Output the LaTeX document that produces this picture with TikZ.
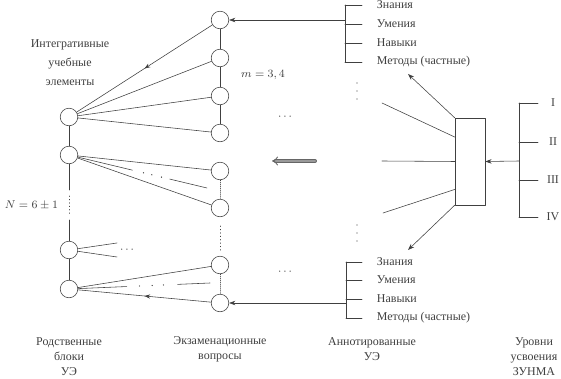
\documentclass[tikz,border=0pt]{standalone}
\usepackage{fontspec}
\setmainfont{Liberation Serif}
\usetikzlibrary{arrows.meta,calc,decorations.markings}
\tikzset{
  uel/.style={circle,draw,minimum size=12.5pt,inner sep=0pt},
  txt/.style={font=\fontsize{8.5}{10.6}\selectfont,align=center},
  midarr/.style={postaction={decorate},decoration={markings,
    mark=at position 0.5 with {\arrow{Stealth[length=4pt,width=3pt]}}}},
  tip/.style={-{Stealth[length=4.5pt,width=3.2pt]}},
}
\begin{document}
\begin{tikzpicture}[x=0.025cm,y=-0.025cm,line cap=round,line join=round,color=black!75]
\useasboundingbox (0,0) rectangle (561,379);

% родственные блоки
\node[uel] (l1) at (69,117) {};
\node[uel] (l2) at (69,155) {};
\node[uel] (l3) at (69,250) {};
\node[uel] (l4) at (69,289) {};

% экзаменационные вопросы
\node[uel] (q1) at (220,20) {};
\node[uel] (q2) at (220,58) {};
\node[uel] (q3) at (220,96) {};
\node[uel] (q4) at (220,133) {};
\node[uel] (q5) at (220,171) {};
\node[uel] (q6) at (220,208) {};
\node[uel] (q7) at (220,265) {};
\node[uel] (q8) at (220,303) {};

\coordinate (v1) at (69,190);
\coordinate (v2) at (69,196);
\coordinate (v3) at (69,214);
\coordinate (v4) at (69,220);
\coordinate (w1) at (220,226);
\coordinate (w2) at (220,252);

\draw (l1) -- (l2);
\draw (l2) -- (v1);
\draw[dotted] (v2) -- (v3);
\draw (v4) -- (l3);
\draw (l3) -- (l4);

\draw (q1) -- (q2);
\draw (q2) -- (q3);
\draw (q3) -- (q4);
\draw[densely dotted] (q5) -- (q6);
\draw[dotted] (w1) -- (w2);
\draw[densely dotted] (q7) -- (q8);

% связи блоков с вопросами
\draw[midarr] (q1) -- (l1);
\foreach \q in {q2,q3,q4} \draw (l1) -- (\q);

\coordinate (e2) at (207,188);
\draw (l2) -- (q5);
\draw (l2) -- (q6);
\draw (l2) -- ($(l2)!0.46!(e2)$);
\draw ($(l2)!0.73!(e2)$) -- (e2);
\foreach \t in {0.54,0.6,0.67} \fill ($(l2)!\t!(e2)$) circle (0.5pt);

\coordinate (s1) at (117,243);
\coordinate (s2) at (117,257);
\draw (l3) -- (s1);
\draw (l3) -- (s2);
\node[txt] at (127,250) {$\cdots$};

\coordinate (e4) at (210,283);
\draw (l4) -- (q7);
\draw[midarr] (q8) -- (l4);
\draw (l4) -- ($(l4)!0.41!(e4)$);
\draw ($(l4)!0.77!(e4)$) -- (e4);
\foreach \t in {0.5,0.59,0.67} \fill ($(l4)!\t!(e4)$) circle (0.5pt);

\node[txt] at (285,117) {$\cdots$};
\node[txt] at (285,272) {$\cdots$};
\foreach \y in {83,91,99,225,233,241} \fill (357,\y) circle (0.5pt);

% двойная стрелка
\coordinate (da) at (315,161);
\coordinate (db) at (272,161);
\draw[black!60,line width=0.6pt,double=black!40,double distance=1.6pt,-{Implies}] (da) -- (db);

% аннотированные УЭ: верх
\coordinate (ta) at (345,5);
\coordinate (tb) at (345,62);
\coordinate (t0) at (345,20);
\draw (ta) -- (tb);
\foreach \y/\w in {5/Знания,24/Умения,43/Навыки,62/Методы (частные)} {
  \draw (345,\y) -- (362,\y);
  \node[txt,anchor=west] at (372,\y) {\w};
}
\draw[tip] (t0) -- (q1);

% аннотированные УЭ: низ
\coordinate (ba) at (346,262);
\coordinate (bb) at (346,318);
\coordinate (b0) at (346,303);
\draw (ba) -- (bb);
\foreach \y/\w in {262/Знания,280/Умения,299/Навыки,318/Методы (частные)} {
  \draw (346,\y) -- (362,\y);
  \node[txt,anchor=west] at (372,\y) {\w};
}
\draw[tip] (b0) -- (q8);

% блок
\node[draw,minimum width=21.3pt,minimum height=61.7pt,inner sep=0pt] (box) at (470,161.5) {};
\coordinate (f1) at (382,103);
\coordinate (f2) at (382,161);
\coordinate (f3) at (383,213);
\coordinate (m1) at (408,74);
\coordinate (m2) at (408,250);
\draw (f1) -- ($(box.north west)!0.22!(box.south west)$);
\draw (f2) -- (box.west);
\draw (f3) -- ($(box.north west)!0.82!(box.south west)$);
\draw[tip] (box.north west) -- (m1);
\draw[tip] (box.south west) -- (m2);

% уровни усвоения
\coordinate (ra) at (519,103);
\coordinate (rb) at (519,217);
\coordinate (r0) at (519,161);
\draw (ra) -- (rb);
\foreach \y/\w in {103/I,142/II,180/III,217/IV} {
  \draw (519,\y) -- (538,\y);
  \node[txt] at (553,\y) {\w};
}
\draw[tip] (r0) -- (box.east);

% подписи
\node[txt,font=\fontsize{8.5}{13.5}\selectfont] at (70,63) {Интегративные\\учебные\\элементы};
\node[txt] at (263,75) {$m=3,4$};
\node[txt,anchor=west] at (0,205) {$N=6\pm1$};
\node[txt] at (69,357) {Родственные\\блоки\\УЭ};
\node[txt] at (220,349.5) {Экзаменационные\\вопросы};
\node[txt] at (372,349.5) {Аннотированные\\УЭ};
\node[txt] at (534,357) {Уровни\\усвоения\\ЗУНМА};
\end{tikzpicture}
\end{document}
